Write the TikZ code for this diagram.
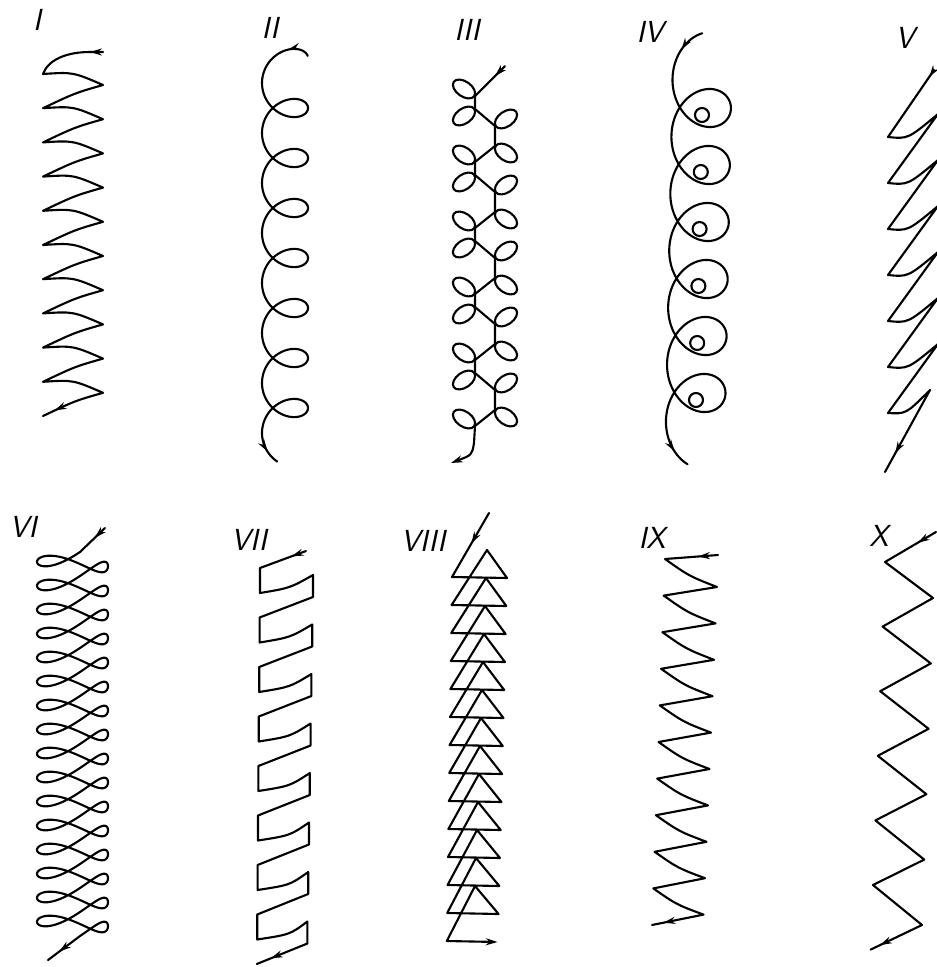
\documentclass[tikz,border=0pt]{standalone}
\usetikzlibrary{arrows.meta,decorations.markings}
\tikzset{
  stroke/.style={line width=1.8pt, line cap=round, line join=round},
  arrowat/.style={postaction={decorate, decoration={markings,
      mark=at position #1 with {\arrow{Stealth[length=10pt,width=6pt]}}}}},
  endtip/.style={-{Stealth[length=10pt,width=6pt]}},
  numlbl/.style={font=\sffamily\slshape\fontsize{26}{26}\selectfont, inner sep=0pt}
}
\begin{document}
\begin{tikzpicture}[x=0.03cm, y=-0.03cm]
	\useasboundingbox (0,0) rectangle (937,967);
	\fill[white] (0,0) rectangle (937,967);
	\clip (0,0) rectangle (937,967);
	% Labels, top row
	\node[numlbl] (lblI)    at (37,20)  {I};
	\node[numlbl] (lblII)   at (270,28) {II};
	\node[numlbl] (lblIII)  at (467,30) {III};
	\node[numlbl] (lblIV)   at (650,32) {IV};
	\node[numlbl] (lblV)    at (905,38) {V};
	% Labels, bottom row
	\node[numlbl] (lblVI)   at (23,527)  {VI};
	\node[numlbl] (lblVII)  at (249,540) {VII};
	\node[numlbl] (lblVIII) at (423,541) {VIII};
	\node[numlbl] (lblIX)   at (652,538) {IX};
	\node[numlbl] (lblX)    at (879,536) {X};
	% I: curved zigzag
	\draw[stroke, arrowat=11pt, arrowat=-11pt] (103,52) -- (90,52) .. controls (66,52) and (48,60) .. (43,74)
		\foreach \j in {0,...,9} { .. controls (73,72+34.2*\j) .. (103,85+34.2*\j) .. controls (75,93+34.2*\j) .. (43,108.2+34.2*\j) };
	% II: loops on the right
	\draw[stroke, arrowat=19pt, arrowat=-12pt] plot[domain=-170:2590, samples=500, variable=\t]
		({285-23*cos(\t)}, {83+\t/360*50+20*sin(\t)});
	% III: zigzag with a loop at every corner
	\draw[stroke, arrowat=12pt] (505,66) -- (475,96);
	\foreach \k in {0,...,4} {
		\pgfmathsetmacro\yo{87+66*\k}
		\draw[stroke] (475,\yo+9) -- (475,\yo+22) -- (495,\yo+39) -- (495,\yo+59) -- (475,\yo+75);
		\draw[stroke] (464,\yo+2)  ellipse [x radius=12.5, y radius=7.5, rotate=-35];
		\draw[stroke] (464,\yo+29) ellipse [x radius=12.5, y radius=7.5, rotate=35];
		\draw[stroke] (506,\yo+32) ellipse [x radius=12.5, y radius=7.5, rotate=35];
		\draw[stroke] (506,\yo+66) ellipse [x radius=12.5, y radius=7.5, rotate=-35];
	}
	\draw[stroke] (464,419) ellipse [x radius=12.5, y radius=7.5, rotate=-35];
	\draw[stroke, endtip] (475,426) -- (474,443) .. controls (472,455) .. (451,463);
	% IV: big loops with small circles
	\draw[stroke, arrowat=23pt, arrowat=-16pt] plot[domain=-90:2235, samples=500, variable=\t]
		({702-\t/330-29.5*cos(\t)}, {79.5+\t/360*57+32*sin(\t)});
	\foreach \k in {0,...,5}
		\draw[stroke] (702-1.2*\k,115+57*\k) circle [radius=7];
	% V: slanted zigzag
	\draw[stroke, arrowat=7pt, arrowat=-18pt] (934,70) -- (888,137)
		\foreach \j in {0,...,5} { .. controls (908,139+46*\j) .. (938,114+46*\j) -- (888,183+46*\j) }
		.. controls (906,414) .. (930,390) -- (885,472);
	% VI: figure eights
	\draw[stroke, arrowat=12pt, arrowat=-12pt] (105,528) -- plot[domain=0:5760, samples=1200, variable=\t]
		({80-35.5*sin(\t)-7.5*sin(\t)*sin(\t)}, {552+\t/15+3.82*sin(\t)+8*sin(2*\t)}) -- (48,960);
	% VII: brackets
	\draw[stroke, arrowat=13pt, arrowat=-13pt] (306,551) -- (260,568)
		\foreach \k in {0,...,7} { -- (260-0.4*\k,593+49.5*\k) .. controls (290,588+49.5*\k) .. (313-0.8*\k,575+49.5*\k)
			-- (313-0.8*\k,597+49.5*\k) -- (259.6-0.4*\k,617.5+49.5*\k) };
	% VIII: triangles
	\draw[stroke, arrowat=30pt, endtip] (489,513) -- (452,577)
		\foreach \k in {0,...,12} { -- (507-0.7*\k,578+28*\k) -- (487-\k,550+28*\k) -- (451.6-0.4*\k,605+28*\k) }
		-- (497.5,942);
	% IX: zigzag, short returns
	\draw[stroke, arrowat=17pt, arrowat=-10pt] (718,555) -- (665,559)
		\foreach \j in {0,...,9} { .. controls (689-1.4*\j,576+36.5*\j) .. (717-1.5*\j,587+36.4*\j) -- (663.7-1.3*\j,595.6+36.6*\j) };
	% X: straight zigzag
	\draw[stroke, arrowat=18pt, arrowat=-9pt] (936,532) -- (885,562)
		\foreach \j in {0,...,5} { -- (933-2.2*\j,598+65.4*\j) -- (882.6-2.4*\j,626.6+64.6*\j) };
\end{tikzpicture}
\end{document}
